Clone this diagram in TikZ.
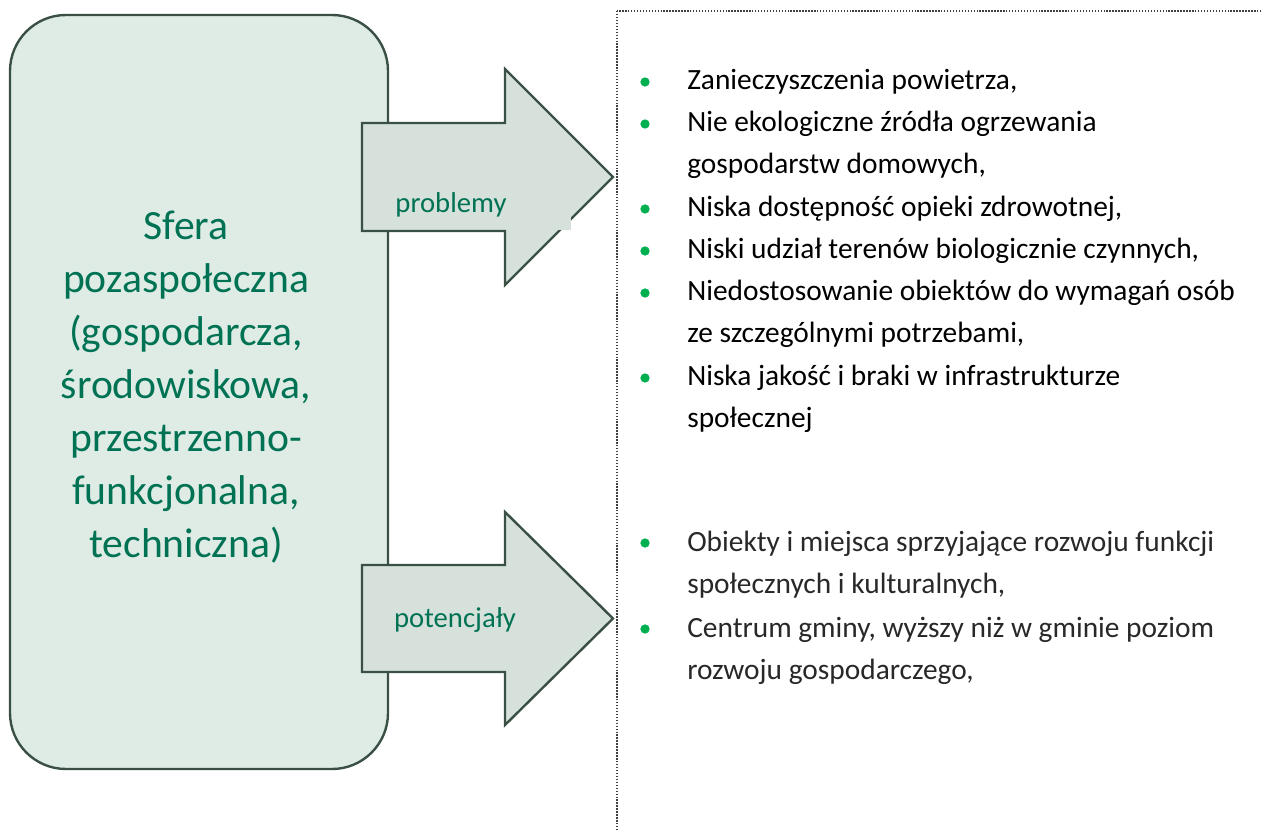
\documentclass[tikz,border=0pt]{standalone}
\usepackage{fontspec}
\setmainfont{Carlito}
\usepackage{tikz}
\usetikzlibrary{positioning}
\definecolor{sferafill}{RGB}{223,236,229}
\definecolor{arrowfill}{RGB}{214,225,219}
\definecolor{sferaline}{RGB}{58,80,68}
\definecolor{sferagreen}{RGB}{0,114,84}
\definecolor{bulletgreen}{RGB}{0,176,80}
\definecolor{softblack}{RGB}{40,40,40}

\begin{document}
\begin{tikzpicture}[x=0.025cm, y=-0.025cm,
    bigarrow/.style={draw=sferaline, line width=1.7pt, fill=arrowfill, line join=miter},
    arrowlabel/.style={anchor=base, inner sep=0pt, text=sferagreen,
                       font=\fontsize{20.4}{24}\selectfont},
    item/.style={anchor=base west, inner sep=0pt, font=\fontsize{20.9}{24}\selectfont},
    listdot/.style={circle, fill=bulletgreen, inner sep=0pt, minimum size=6.6pt}
]
    \clip (0,0) rectangle (1261,832);

    % sfera box
    \draw[fill=sferafill, draw=sferaline, line width=1.7pt, rounded corners=1.4cm]
        (10,15) rectangle (388,769);
    \node[align=center, inner sep=0pt, text=sferagreen,
          font=\fontsize{29.6}{37.7}\selectfont] (sfera) at (186,387)
        {Sfera\\pozaspołeczna\\(gospodarcza,\\środowiskowa,\\przestrzenno-\\funkcjonalna,\\techniczna)};

    % arrows
    \draw[bigarrow] (362,123) -- (505,123) -- (505,69) -- (613,177)
        -- (505,285) -- (505,231) -- (362,231) -- cycle;
    \fill[arrowfill] (550,217) rectangle (571,230);
    \draw[bigarrow] (362,565) -- (505,565) -- (505,512) -- (613,618.5)
        -- (505,725) -- (505,672) -- (362,672) -- cycle;
    \node[arrowlabel] (prob) at (451,213) {problemy};
    \node[arrowlabel] (pot) at (455,627) {potencjały};

    % dotted frame
    \draw[gray!50!black, line width=1.1pt, dash pattern=on 1pt off 1.1pt]
        (617,11) rectangle (1320,900);

    % problemy
    \node[item] (P1) at (687,90)  {Zanieczyszczenia powietrza,};
    \node[item] (P2) at (687,132) {Nie ekologiczne źródła ogrzewania};
    \node[item] (P3) at (687,174) {gospodarstw domowych,};
    \node[item] (P4) at (687,217) {Niska dostępność opieki zdrowotnej,};
    \node[item] (P5) at (687,259) {Niski udział terenów biologicznie czynnych,};
    \node[item] (P6) at (687,301) {Niedostosowanie obiektów do wymagań osób};
    \node[item] (P7) at (687,343) {ze szczególnymi potrzebami,};
    \node[item] (P8) at (687,386) {Niska jakość i braki w infrastrukturze};
    \node[item] (P9) at (687,428) {społecznej};
    \node[listdot] (d1) at (645,82)  {};
    \node[listdot] (d2) at (645,124) {};
    \node[listdot] (d4) at (645,209) {};
    \node[listdot] (d5) at (645,251) {};
    \node[listdot] (d6) at (645,293) {};
    \node[listdot] (d8) at (645,378) {};

    % potencjaly
    \node[item, text=softblack] (T1) at (687,551) {Obiekty i miejsca sprzyjające rozwoju funkcji};
    \node[item, text=softblack] (T2) at (687,593) {społecznych i kulturalnych,};
    \node[item, text=softblack] (T3) at (687,637) {Centrum gminy, wyższy niż w gminie poziom};
    \node[item, text=softblack] (T4) at (687,679) {rozwoju gospodarczego,};
    \node[listdot] (e1) at (645,543) {};
    \node[listdot] (e3) at (645,629) {};
\end{tikzpicture}
\end{document}
